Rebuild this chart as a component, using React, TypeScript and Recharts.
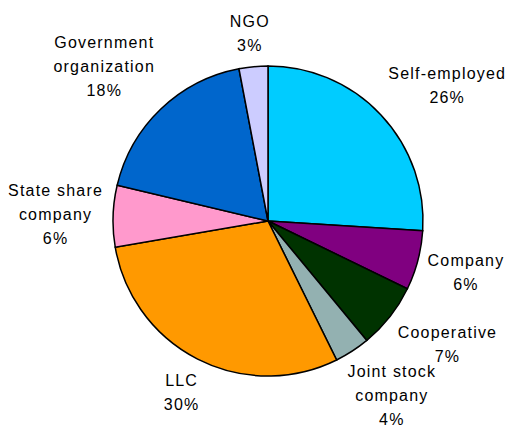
import { Cell, Pie, PieChart } from 'recharts';

const categories = [
	'Self-employed',
	'Company',
	'Cooperative',
	'Joint stock company',
	'LLC',
	'State share company',
	'Government organization',
	'NGO',
];
const shares = [26.0, 6.2, 6.8, 3.7, 29.6, 6.4, 18.3, 3.0];
const colors = ['#00CCFF', '#800080', '#003300', '#93B1B1', '#FF9900', '#FF99CC', '#0066CC', '#CCCCFF'];

const FONT = "'Liberation Sans', Arial, sans-serif";
const FONT_SIZE = 16;
const SPACING = 1.2;
const LINE_H = 24;
const GAP = 10;
const RAD = Math.PI / 180;

const data = categories.map((name, i) => ({ name, value: shares[i] }));

let ctx: CanvasRenderingContext2D | null = null;
const measure = (s: string) => {
	if (!ctx) {
		ctx = document.createElement('canvas').getContext('2d');
		if (ctx) ctx.font = `${FONT_SIZE}px 'Liberation Sans'`;
	}
	const w = ctx ? ctx.measureText(s).width : s.length * 9;
	return w + s.length * SPACING;
};

const wrap = (name: string) => {
	const words = name.split(' ');
	const lines: string[] = [];
	let cur = '';
	for (const w of words) {
		const next = cur ? `${cur} ${w}` : w;
		if (next.length > 13 && cur) {
			lines.push(cur);
			cur = w;
		} else cur = next;
	}
	lines.push(cur);
	return lines;
};

const clamp = (v: number) => Math.max(-1, Math.min(1, v));

// excel-like: anchor just outside the rim, box hangs off it by corner/edge
const renderLabel = (p: any) => {
	const lines = [...wrap(p.name), `${Math.round(p.percent * 100)}%`];
	const w = Math.max(...lines.map(measure));
	const h = lines.length * LINE_H;
	const ux = Math.cos(-p.midAngle * RAD);
	const uy = Math.sin(-p.midAngle * RAD);
	const r = p.outerRadius + GAP;
	const x = p.cx + r * ux + clamp(ux * Math.SQRT2) * w / 2;
	const yc = p.cy + r * uy + clamp(uy * Math.SQRT2) * h / 2;
	const y = yc - ((lines.length - 1) * LINE_H) / 2;
	return (
		<text
			x={x}
			y={y}
			textAnchor="middle"
			dominantBaseline="central"
			fontFamily={FONT}
			fontSize={FONT_SIZE}
			letterSpacing={SPACING}
			fill="#000"
		>
			{lines.map((l, i) => (
				<tspan key={i} x={x} dy={i === 0 ? 0 : LINE_H}>
					{l}
				</tspan>
			))}
		</text>
	);
};

export default function App() {
	return (
		<div style={{ width: 521, height: 431, background: '#fff' }}>
			<style>{'body{margin:0}'}</style>
			<PieChart width={521} height={431} margin={{ top: 0, right: 0, bottom: 0, left: 0 }}>
				<Pie
					data={data}
					dataKey="value"
					nameKey="name"
					cx={268}
					cy={221}
					outerRadius={155}
					startAngle={90}
					endAngle={-270}
					stroke="#000"
					strokeWidth={1.5}
					label={renderLabel}
					labelLine={false}
					isAnimationActive={false}
				>
					{data.map((d, i) => (
						<Cell key={d.name} fill={colors[i]} />
					))}
				</Pie>
			</PieChart>
		</div>
	);
}
